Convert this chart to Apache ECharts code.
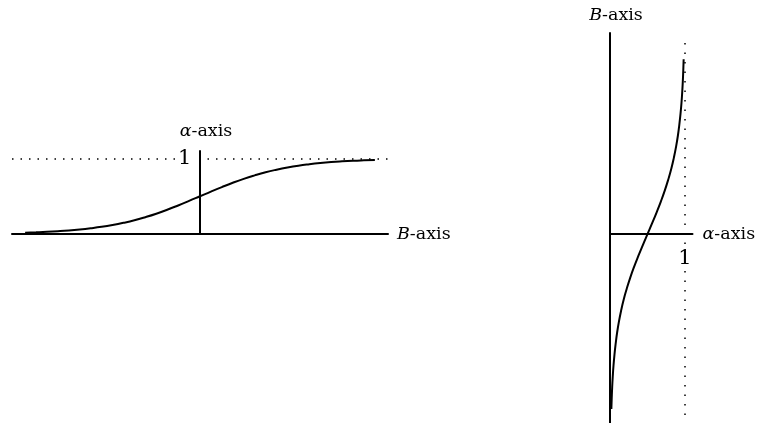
<!DOCTYPE html>
<html>
<head>
<meta charset="utf-8">
<script src="https://cdn.jsdelivr.net/npm/echarts@6/dist/echarts.min.js"></script>
<style>
html,body{margin:0;padding:0;background:#fff;}
#chart{width:759px;height:423px;}
</style>
</head>
<body>
<div id="chart"></div>
<script>
// B values along the curve and the alpha values
var bValues = [-4, -3.75, -3.5, -3.25, -3, -2.75, -2.5, -2.25, -2, -1.75, -1.5, -1.25, -1, -0.75, -0.5, -0.25,
               0, 0.25, 0.5, 0.75, 1, 1.25, 1.5, 1.75, 2, 2.25, 2.5, 2.75, 3, 3.25, 3.5, 3.75, 4];
var alphaValues = [0.018, 0.023, 0.029, 0.037, 0.047, 0.060, 0.076, 0.095, 0.119, 0.148, 0.182, 0.223, 0.269, 0.321, 0.378, 0.438,
                   0.5, 0.562, 0.622, 0.679, 0.731, 0.777, 0.818, 0.852, 0.881, 0.905, 0.924, 0.940, 0.953, 0.963, 0.971, 0.977, 0.982];
var tickLabels = ['1'];
var refLevel = 1;

var FONT = 'DejaVu Serif';
var richName = {
  i: { fontStyle: 'italic', fontFamily: FONT, fontSize: 17.5, color: '#000' },
  n: { fontFamily: FONT, fontSize: 17.5, color: '#000' }
};

var leftData = bValues.map(function (b, k) { return [b, alphaValues[k]]; });
var rightData = bValues.map(function (b, k) { return [alphaValues[k], b]; });

function axisBase() {
  return {
    type: 'value',
    axisLine: { show: true, onZero: true, lineStyle: { color: '#000', width: 2 } },
    axisTick: { show: false },
    axisLabel: { show: false },
    splitLine: { show: false }
  };
}

var oneLabel = {
  show: true, position: 'inside', formatter: tickLabels[0],
  fontFamily: FONT, fontSize: 21, color: '#000',
  backgroundColor: '#fff', padding: [0, 1]
};

var option = {
  backgroundColor: '#fff',
  animation: false,
  grid: [
    { left: 12, right: 371, top: 151, bottom: 189, outerBoundsMode: 'none', containLabel: false },
    { left: 610, right: 66.5, top: 33, bottom: 0, outerBoundsMode: 'none', containLabel: false }
  ],
  xAxis: [
    Object.assign(axisBase(), {
      gridIndex: 0, min: -4.3, max: 4.3,
      name: '{i|B}{n|-axis}', nameLocation: 'end', nameGap: 9,
      nameTextStyle: { rich: richName, verticalAlign: 'middle' }
    }),
    Object.assign(axisBase(), {
      gridIndex: 1, min: 0, max: 1.1,
      name: '{i|α}{n|-axis}', nameLocation: 'end', nameGap: 10,
      nameTextStyle: { rich: richName, verticalAlign: 'middle' }
    })
  ],
  yAxis: [
    Object.assign(axisBase(), {
      gridIndex: 0, min: 0, max: 1.1,
      name: '{i|α}{n|-axis}', nameLocation: 'end', nameGap: 11,
      nameTextStyle: { rich: richName, align: 'center', padding: [0, 0, 0, 12] }
    }),
    Object.assign(axisBase(), {
      gridIndex: 1, min: -4.32, max: 4.6,
      name: '{i|B}{n|-axis}', nameLocation: 'end', nameGap: 9,
      nameTextStyle: { rich: richName, align: 'center', padding: [0, 0, 0, 12] }
    })
  ],
  series: [
    {
      type: 'line', xAxisIndex: 0, yAxisIndex: 0, data: leftData,
      smooth: true, symbol: 'none',
      lineStyle: { color: '#000', width: 2 },
      markLine: {
        silent: true, symbol: 'none', label: { show: false },
        lineStyle: { color: '#000', width: 1.5, type: [1.5, 7], opacity: 1 },
        data: [[{ coord: [-4.3, refLevel] }, { coord: [4.3, refLevel] }]]
      },
      markPoint: {
        silent: true, symbol: 'rect', symbolSize: 0,
        label: oneLabel,
        data: [{ coord: [-0.35, refLevel] }]
      }
    },
    {
      type: 'line', xAxisIndex: 1, yAxisIndex: 1, data: rightData,
      smooth: true, symbol: 'none',
      lineStyle: { color: '#000', width: 2 },
      markLine: {
        silent: true, symbol: 'none', label: { show: false },
        lineStyle: { color: '#000', width: 1.5, type: [1.5, 8], opacity: 1 },
        data: [[{ coord: [refLevel, 4.37] }, { coord: [refLevel, -4.32] }]]
      },
      markPoint: {
        silent: true, symbol: 'rect', symbolSize: 0,
        label: oneLabel,
        data: [{ coord: [refLevel, -0.55] }]
      }
    }
  ]
};

var chart = echarts.init(document.getElementById('chart'), null, { renderer: 'canvas' });
chart.setOption(option);
</script>
</body>
</html>
